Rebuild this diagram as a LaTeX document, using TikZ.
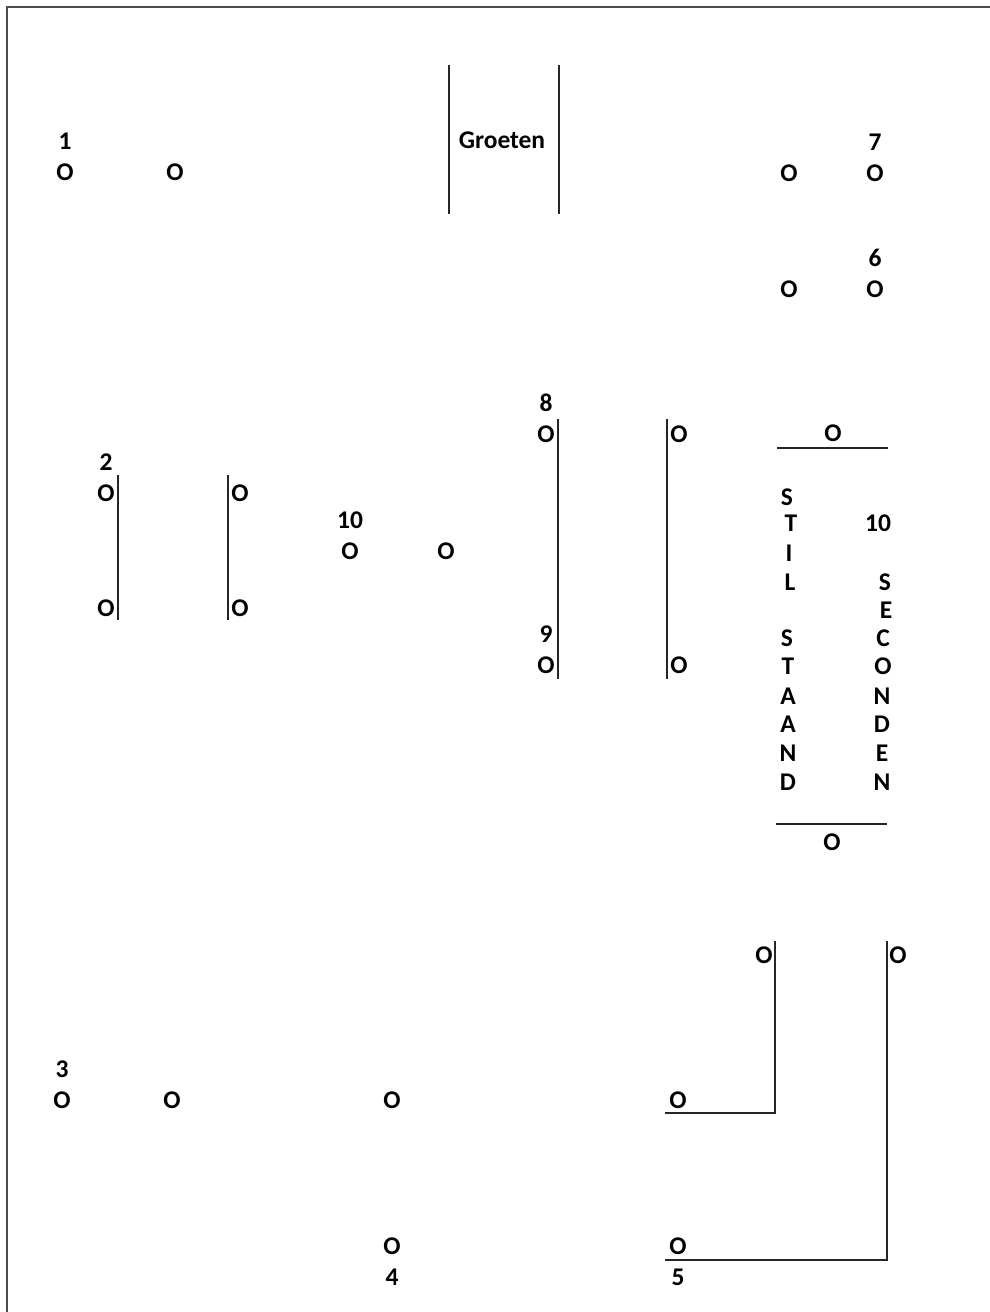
\documentclass[tikz,border=0pt]{standalone}
\usepackage{fontspec}
\setmainfont{Carlito}
\usetikzlibrary{positioning}

\begin{document}
\begin{tikzpicture}[
        x=0.02cm, y=-0.02cm,
        node distance=0.27cm,
        lbl/.style={font=\bfseries\fontsize{14.5}{17}\selectfont, inner sep=0pt},
        lijn/.style={line width=0.9pt, black!85},
        rand/.style={line width=1.3pt, black!70}
    ]
    \useasboundingbox (0,0) rectangle (990,1312);
    \draw[rand] (7,1312) -- (7,7) -- (990,7);

    % groep 1
    \node[lbl] (o1a) at (65,172) {O};
    \node[lbl] (o1b) at (175,172) {O};
    \node[lbl, above=of o1a] (n1) {1};

    % Groeten
    \node[lbl] (groet) at (502,140) {Groeten};
    \coordinate (gl1) at (449,65);  \coordinate (gl2) at (449,214);
    \coordinate (gr1) at (559,65);  \coordinate (gr2) at (559,214);
    \draw[lijn] (gl1) -- (gl2);
    \draw[lijn] (gr1) -- (gr2);

    % groep 7 en 6
    \node[lbl] (o7a) at (789,173) {O};
    \node[lbl] (o7b) at (875,173) {O};
    \node[lbl, above=of o7b] (n7) {7};
    \node[lbl] (o6a) at (789,289) {O};
    \node[lbl] (o6b) at (875,289) {O};
    \node[lbl, above=of o6b] (n6) {6};

    % groep 2
    \node[lbl] (o2a) at (106,493) {O};
    \node[lbl] (o2b) at (106,608) {O};
    \node[lbl] (o2c) at (240,493) {O};
    \node[lbl] (o2d) at (240,608) {O};
    \node[lbl, above=of o2a] (n2) {2};
    \coordinate (l2a) at (118,475); \coordinate (l2b) at (118,620);
    \coordinate (l2c) at (228,475); \coordinate (l2d) at (228,620);
    \draw[lijn] (l2a) -- (l2b);
    \draw[lijn] (l2c) -- (l2d);

    % groep 10
    \node[lbl] (o10a) at (350,551) {O};
    \node[lbl] (o10b) at (446,551) {O};
    \node[lbl, above=of o10a] (n10) {10};

    % groep 8 en 9
    \node[lbl] (o8a) at (546,434) {O};
    \node[lbl] (o8b) at (679,434) {O};
    \node[lbl] (o9a) at (546,665) {O};
    \node[lbl] (o9b) at (679,665) {O};
    \node[lbl, above=of o8a] (n8) {8};
    \node[lbl, above=of o9a] (n9) {9};
    \coordinate (l8a) at (558,419); \coordinate (l8b) at (558,679);
    \coordinate (l8c) at (667,419); \coordinate (l8d) at (667,679);
    \draw[lijn] (l8a) -- (l8b);
    \draw[lijn] (l8c) -- (l8d);

    % stilstand
    \node[lbl] (ostop) at (833,433) {O};
    \coordinate (st1) at (777,448); \coordinate (st2) at (888,448);
    \draw[lijn] (st1) -- (st2);
    \foreach \c/\xx/\yy in {S/787/497, T/791/523, I/789/553, L/790/582,
        S/787/638, T/788/666, A/788/696, A/788/724, N/788/753, D/788/782}
        \node[lbl] (st\yy) at (\xx,\yy) {\c};
    \node[lbl] (tien) at (878,523) {10};
    \foreach \c/\xx/\yy in {S/885/582, E/886/610, C/883/638, O/883/666,
        N/882/696, D/882/724, E/882/753, N/882/782}
        \node[lbl] (se\yy) at (\xx,\yy) {\c};
    \coordinate (sb1) at (776,824); \coordinate (sb2) at (887,824);
    \draw[lijn] (sb1) -- (sb2);
    \node[lbl] (osbot) at (832,842) {O};

    % groep 3 en 4
    \node[lbl] (o3a) at (62,1100) {O};
    \node[lbl] (o3b) at (172,1100) {O};
    \node[lbl] (o3c) at (392,1100) {O};
    \node[lbl, above=of o3a] (n3) {3};
    \node[lbl] (o4) at (392,1246) {O};
    \node[lbl, below=of o4] (n4) {4};

    % groep 5
    \node[lbl] (o5a) at (764,955) {O};
    \node[lbl] (o5b) at (678,1100) {O};
    \node[lbl] (o5c) at (898,955) {O};
    \node[lbl] (o5d) at (678,1246) {O};
    \node[lbl, below=of o5d] (n5) {5};
    \coordinate (h1a) at (665,1113); \coordinate (h1b) at (775,1113);
    \coordinate (h1c) at (775,941);
    \coordinate (h2a) at (665,1260); \coordinate (h2b) at (887,1260);
    \coordinate (h2c) at (887,941);
    \draw[lijn] (h1a) -- (h1b) -- (h1c);
    \draw[lijn] (h2a) -- (h2b) -- (h2c);
\end{tikzpicture}
\end{document}
